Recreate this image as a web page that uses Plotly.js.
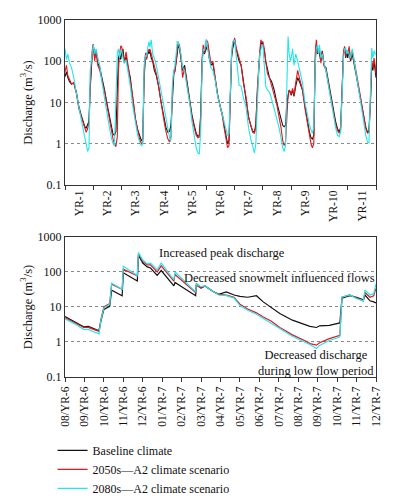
<!DOCTYPE html>
<html>
<head>
<meta charset="utf-8">
<script src="https://cdn.plot.ly/plotly-3.0.1.min.js"></script>
<style>html,body{margin:0;padding:0;background:#fff;}#chart{width:396px;height:500px;}</style>
</head>
<body>
<div id="chart"></div>
<script>
// ---------- Top panel: 11 years of flows ----------
const yearLabels = ["YR-1","YR-2","YR-3","YR-4","YR-5","YR-6","YR-7","YR-8","YR-9","YR-10","YR-11"];
// sampling positions within each year (fraction of year)
const topFrac = [0, .05, .10, .16, .23, .31, .40, .49, .57, .64, .70, .75, .80, .85, .89, .93, .97];

const topBaseline = [
  [42, 55, 40, 32, 28, 30, 18, 8, 5, 3.5, 2.6, 2.4, 2.8, 3.5, 20, 90, 180],
  [250, 120, 180, 90, 70, 40, 20, 9, 4.5, 2.5, 1.7, 1.6, 2.0, 20, 120, 150, 110],
  [150, 200, 90, 130, 70, 40, 12, 4, 2.2, 1.5, 1.2, 1.3, 40, 150, 120, 180, 150],
  [190, 120, 100, 60, 45, 25, 10, 4.5, 2.5, 1.9, 2.0, 3, 15, 50, 60, 90, 150],
  [250, 200, 120, 60, 80, 35, 12, 5, 2.8, 1.8, 1.5, 1.6, 5, 100, 200, 150, 180],
  [200, 250, 120, 80, 90, 40, 15, 8, 5, 2.5, 1.4, 1.0, 1.2, 20, 120, 200, 250],
  [330, 200, 150, 100, 80, 30, 13, 4.5, 2.8, 2.0, 1.9, 3, 15, 60, 150, 250, 300],
  [250, 180, 100, 60, 40, 32, 20, 10, 6, 3.5, 2.8, 2.6, 2.8, 10, 16, 20, 18],
  [15, 20, 14, 25, 40, 30, 20, 8, 3.5, 2, 1.4, 1.3, 1.6, 100, 250, 150, 200],
  [150, 100, 180, 80, 70, 35, 15, 6, 3.5, 2.3, 1.9, 2.5, 30, 150, 200, 120, 180],
  [120, 200, 100, 150, 80, 45, 20, 9, 4, 2.5, 1.9, 2, 10, 80, 60, 100, 60]
];
const topA2_2050 = [
  [55, 80, 45, 35, 28, 30, 17, 7, 4.5, 3, 2.2, 1.9, 2.3, 3.5, 25, 110, 200],
  [260, 100, 190, 80, 60, 35, 18, 8, 4, 2, 1.3, 1.0, 0.85, 1.5, 60, 150, 230],
  [230, 150, 100, 170, 80, 45, 13, 4, 2, 1.3, 1.0, 1.1, 60, 160, 110, 200, 170],
  [200, 150, 110, 70, 50, 25, 9, 4, 2, 1.3, 1.1, 1.5, 20, 60, 55, 120, 200],
  [280, 250, 130, 40, 70, 30, 11, 4.5, 2.5, 1.6, 1.4, 1.45, 4, 120, 250, 160, 200],
  [330, 290, 150, 90, 100, 45, 15, 8, 4.5, 2.2, 1.1, 0.8, 0.9, 30, 150, 250, 330],
  [370, 220, 160, 110, 80, 30, 14, 4.5, 2.6, 1.9, 1.8, 2.5, 20, 80, 180, 330, 280],
  [300, 200, 100, 50, 40, 25, 15, 9, 4.5, 2.5, 1.2, 0.9, 1.1, 8, 15, 20, 18],
  [16, 22, 15, 30, 60, 35, 20, 7, 3, 1.6, 1.0, 0.8, 1.0, 150, 330, 160, 200],
  [200, 90, 170, 80, 60, 30, 14, 5.5, 3, 2.1, 1.8, 2.2, 40, 180, 230, 130, 180],
  [150, 230, 110, 180, 90, 50, 22, 9, 4, 2.3, 1.8, 1.9, 8, 100, 70, 120, 80]
];
const topA2_2080 = [
  [200, 110, 150, 90, 70, 40, 17, 7, 4, 2.3, 1.4, 0.9, 0.65, 0.8, 60, 100, 150],
  [250, 150, 200, 120, 80, 30, 12, 5, 2.5, 1.4, 1.0, 0.9, 20, 160, 200, 120, 180],
  [180, 120, 90, 110, 60, 25, 8, 3, 1.6, 1.1, 0.9, 1.0, 80, 140, 130, 220, 300],
  [220, 330, 150, 120, 80, 40, 18, 7, 3.5, 2, 1.4, 1.2, 30, 60, 80, 150, 300],
  [300, 220, 150, 70, 60, 25, 11, 3.5, 1.5, 0.8, 0.6, 0.56, 2, 80, 200, 180, 300],
  [330, 200, 120, 70, 60, 35, 14, 8, 5, 3, 2.0, 1.6, 1.8, 40, 150, 300, 300],
  [330, 150, 60, 26, 25, 13, 8, 2.5, 1.3, 0.8, 0.6, 1.0, 10, 60, 150, 200, 250],
  [250, 60, 25, 20, 18, 12, 7, 4.5, 2.5, 1.4, 0.8, 0.65, 0.9, 30, 400, 150, 100],
  [120, 200, 80, 150, 100, 60, 30, 10, 5, 3, 2.2, 1.8, 2.5, 80, 200, 250, 150],
  [250, 120, 150, 90, 60, 28, 12, 5, 2.5, 1.6, 1.5, 2, 20, 120, 200, 210, 150],
  [180, 150, 120, 200, 100, 45, 18, 7, 3, 1.6, 1.1, 1.05, 15, 210, 120, 180, 150]
];
const topEnd = {baseline: 40, a2050: 50, a2080: 150};

// ---------- Bottom panel: 08/YR-6 .. 12/YR-7 ----------
const monthLabels = ["08/YR-6","09/YR-6","10/YR-6","11/YR-6","12/YR-6","01/YR-7","02/YR-7","03/YR-7","04/YR-7","05/YR-7","06/YR-7","07/YR-7","08/YR-7","09/YR-7","10/YR-7","11/YR-7","12/YR-7"];
// time in months since 08/YR-6
const botMonth = [0, 0.5, 0.96, 1.2, 1.45, 1.75, 1.85, 2.0, 2.3, 2.4, 2.94, 3.0, 3.72, 3.78, 4.0, 4.23, 4.4, 4.74, 4.95, 5.6, 5.66, 6.72, 6.76, 7.0, 7.2, 7.6, 7.9, 8.3, 8.7, 9.0, 9.4, 9.85, 10.2, 10.6, 11.05, 11.7, 12.4, 12.6, 12.94, 13.1, 13.6, 14.14, 14.25, 14.65, 15.0, 15.35, 15.43, 15.69, 15.88, 16];
const botBaseline = [5.3, 3.8, 2.7, 2.8, 2.4, 2.1, 4.0, 8.5, 10.5, 30, 21, 95, 55, 300, 180, 140, 130, 80, 110, 40, 50, 21, 46, 35, 40, 28, 23, 27, 22, 20, 19, 21, 14, 10, 6.5, 4.2, 3.0, 2.8, 2.6, 2.9, 3.0, 3.5, 18, 21, 19, 16, 22, 15, 14, 13];
const botA2_2050 = [5.0, 3.6, 2.6, 2.6, 2.3, 2.0, 4.5, 10, 12.5, 45, 32, 120, 78, 330, 200, 160, 160, 100, 150, 55, 85, 26, 42, 35, 40, 28, 23, 22, 19, 12, 8.8, 6.8, 5.2, 4.0, 2.6, 1.6, 1.05, 0.9, 0.81, 0.95, 1.25, 1.55, 19, 22, 18, 15, 26, 19, 21, 34];
const botA2_2080 = [4.6, 3.3, 2.3, 2.3, 2.0, 1.7, 4.3, 9.5, 12, 48, 32, 145, 80, 360, 220, 170, 180, 115, 180, 60, 100, 27, 45, 38, 40, 28, 22, 21, 18, 11, 8.1, 6.2, 4.7, 3.6, 2.4, 1.45, 0.95, 0.85, 0.65, 0.8, 1.1, 1.4, 19, 22, 17.5, 15, 31, 22, 24, 46];

const seriesNames = ["Baseline climate", "2050s\u2014A2 climate scenario", "2080s\u2014A2 climate scenario"];
const seriesColors = ["#111111", "#e8161b", "#21e6ee"];
const yTickVals = [0.1, 1, 10, 100, 1000];
const yTickText = ["0.1", "1", "10", "100", "1000"];

// ---------- build ----------
const topT = [];
for (let k = 0; k < yearLabels.length; k++) topFrac.forEach(f => topT.push(k + f));
topT.push(yearLabels.length);
const flat = (rows, end) => rows.flat().concat([end]);
const topSeries = [flat(topBaseline, topEnd.baseline), flat(topA2_2050, topEnd.a2050), flat(topA2_2080, topEnd.a2080)];
const botSeries = [botBaseline, botA2_2050, botA2_2080];

const FONT = "Liberation Serif, Times New Roman, serif";
const traces = [];
topSeries.forEach((s, i) => traces.push({
  x: topT, y: s, xaxis: 'x', yaxis: 'y', type: 'scatter', mode: 'lines',
  line: {color: seriesColors[i], width: 1.1}, name: seriesNames[i], showlegend: false
}));
botSeries.forEach((s, i) => traces.push({
  x: botMonth, y: s, xaxis: 'x2', yaxis: 'y2', type: 'scatter', mode: 'lines',
  line: {color: seriesColors[i], width: 1.2}, name: seriesNames[i], showlegend: true
}));

const yCommon = {
  type: 'log', range: [-1, 3], tickmode: 'array', tickvals: yTickVals, ticktext: yTickText,
  showgrid: true, gridcolor: '#8a8a8a', griddash: 'dot', gridwidth: 1,
  showline: true, mirror: true, linecolor: '#333', linewidth: 1, zeroline: false,
  ticks: '', tickfont: {family: FONT, size: 12, color: '#111'},
  title: {text: 'Discharge (m<sup>3</sup>/s)', font: {family: FONT, size: 12.5, color: '#111'}, standoff: 2}
};

const layout = {
  width: 396, height: 500,
  margin: {l: 65, r: 20, t: 20, b: 123, autoexpand: false},
  paper_bgcolor: '#fff', plot_bgcolor: '#fff',
  font: {family: FONT, color: '#111'},
  hovermode: false,
  xaxis: {
    domain: [0, 1], anchor: 'y', range: [0, 11], tickmode: 'array', automargin: false,
    tickvals: yearLabels.map((_, i) => i + 0.5), ticktext: yearLabels, tickangle: -90,
    ticks: '', showgrid: false, zeroline: false,
    showline: true, mirror: true, linecolor: '#333', linewidth: 1,
    tickfont: {family: FONT, size: 11.5, color: '#111'},
    minor: {tickmode: 'array', tickvals: yearLabels.map((_, i) => i).concat([yearLabels.length]), ticks: 'outside', ticklen: 4, tickcolor: '#333', showgrid: false}
  },
  yaxis: Object.assign({}, yCommon, {domain: [0.5378, 1], anchor: 'x', automargin: false}),
  xaxis2: {
    domain: [0, 1], anchor: 'y2', range: [0, 16], tickmode: 'array', automargin: false,
    tickvals: monthLabels.map((_, i) => i), ticktext: monthLabels, tickangle: -90,
    ticks: 'outside', ticklen: 4, tickcolor: '#333', showgrid: false, zeroline: false,
    showline: true, mirror: true, linecolor: '#333', linewidth: 1,
    tickfont: {family: FONT, size: 11.5, color: '#111'}
  },
  yaxis2: Object.assign({}, yCommon, {domain: [0, 0.3922], anchor: 'x2', automargin: false}),
  legend: {
    x: -0.04, xanchor: 'left', y: -0.165, yanchor: 'top', orientation: 'v', tracegroupgap: 0,
    font: {family: FONT, size: 12, color: '#111'}, bgcolor: 'rgba(0,0,0,0)'
  },
  annotations: [
    {xref: 'x2', yref: 'y2', x: 8.1, y: 2.534, text: 'Increased peak discharge', showarrow: false, font: {family: FONT, size: 12.5, color: '#111'}},
    {xref: 'x2', yref: 'y2', x: 11.03, y: 1.82, text: 'Decreased snowmelt influenced flows', showarrow: false, font: {family: FONT, size: 12.5, color: '#111'}},
    {xref: 'x2', yref: 'y2', x: 12.89, y: -0.59, text: 'Decreased discharge<br>during low flow period', showarrow: false, align: 'center', font: {family: FONT, size: 12.5, color: '#111'}}
  ]
};

Plotly.newPlot('chart', traces, layout, {staticPlot: true, displayModeBar: false});
</script>
</body>
</html>
